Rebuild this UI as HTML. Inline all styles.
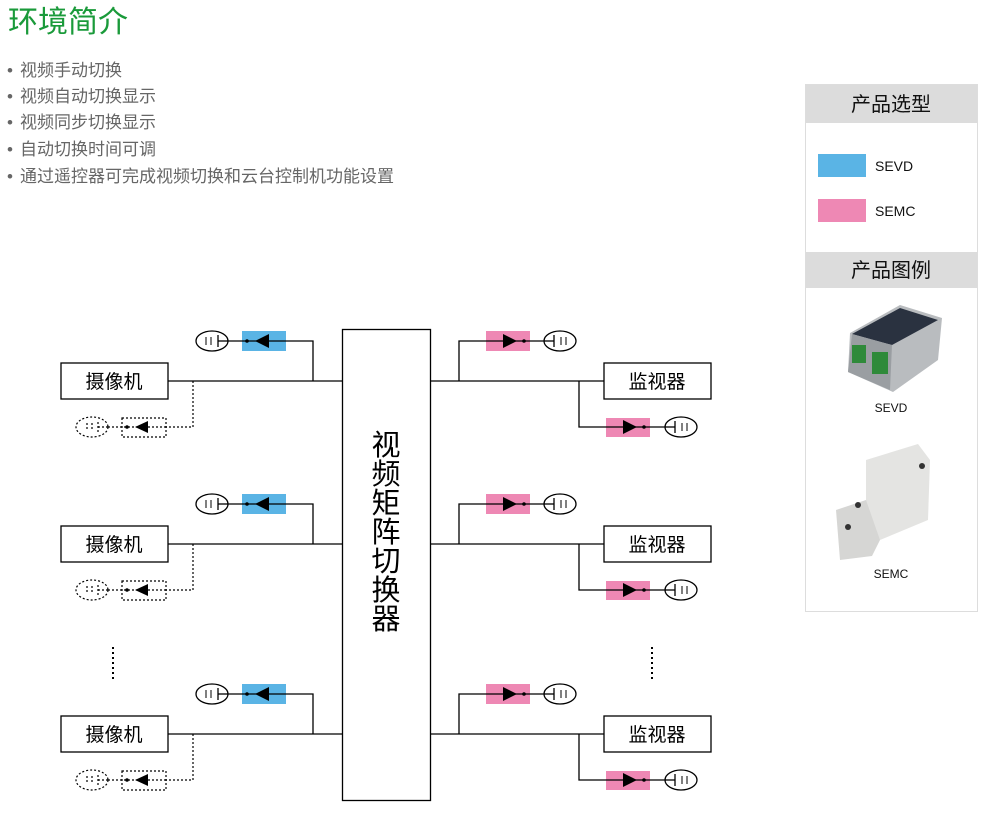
<!DOCTYPE html>
<html><head><meta charset="utf-8"><style>
body{margin:0;background:#fff;width:990px;height:822px;overflow:hidden}
svg{display:block}
.cjk{font-family:"Liberation Sans","Noto Sans CJK SC",sans-serif}
</style></head><body>
<svg width="990" height="822" viewBox="0 0 990 822" xmlns="http://www.w3.org/2000/svg" class="cjk">
<defs>
<g id="cam" fill="none" stroke="#000" stroke-width="1.3">
  <rect x="61" y="-18" width="107" height="36" fill="#fff"/>
  <line x1="168" y1="0" x2="342" y2="0"/>
  <polyline points="313,0 313,-40 286,-40"/>
  <rect x="242" y="-50" width="44" height="20" fill="#5ab4e5" stroke="none"/>
  <line x1="286" y1="-40" x2="228" y2="-40"/>
  <polygon points="255,-40 269,-47 269,-33" fill="#000" stroke="none"/>
  <circle cx="247" cy="-40" r="1.8" fill="#000" stroke="none"/>
  <ellipse cx="212" cy="-40" rx="16" ry="10" fill="#fff"/>
  <line x1="218" y1="-46" x2="218" y2="-34"/><line x1="228" y1="-40" x2="218" y2="-40"/>
  <line x1="211" y1="-44" x2="211" y2="-36" stroke-width="1"/><line x1="206" y1="-44" x2="206" y2="-36" stroke-width="1"/>
  <g stroke-dasharray="2,2" stroke-width="1.2">
    <polyline points="193,0 193,46 166,46"/>
    <rect x="122" y="37" width="44" height="19"/>
    <line x1="122" y1="46" x2="98" y2="46"/>
    <ellipse cx="92" cy="46" rx="16" ry="10" fill="#fff"/>
    <line x1="98" y1="41" x2="98" y2="51"/><line x1="98" y1="46" x2="108" y2="46"/>
    <line x1="92" y1="42" x2="92" y2="50"/><line x1="87" y1="42" x2="87" y2="50"/>
  </g>
  <line x1="166" y1="46" x2="122" y2="46" stroke-dasharray="2,2"/>
  <polygon points="135,46 148,40 148,52" fill="#000" stroke="none"/>
  <circle cx="127" cy="46" r="1.8" fill="#000" stroke="none"/>
</g>
<g id="mon" fill="none" stroke="#000" stroke-width="1.3">
  <rect x="604" y="-18" width="107" height="36" fill="#fff"/>
  <line x1="431" y1="0" x2="604" y2="0"/>
  <polyline points="459,0 459,-40 486,-40"/>
  <rect x="486" y="-50" width="44" height="20" fill="#ee88b4" stroke="none"/>
  <line x1="486" y1="-40" x2="544" y2="-40"/>
  <polygon points="517,-40 503,-47 503,-33" fill="#000" stroke="none"/>
  <circle cx="524" cy="-40" r="1.8" fill="#000" stroke="none"/>
  <ellipse cx="560" cy="-40" rx="16" ry="10" fill="#fff"/>
  <line x1="544" y1="-40" x2="554" y2="-40"/><line x1="554" y1="-46" x2="554" y2="-34"/>
  <line x1="561" y1="-44" x2="561" y2="-36" stroke-width="1"/><line x1="566" y1="-44" x2="566" y2="-36" stroke-width="1"/>
  <polyline points="579,0 579,46 606,46"/>
  <rect x="606" y="37" width="44" height="19" fill="#ee88b4" stroke="none"/>
  <line x1="606" y1="46" x2="665" y2="46"/>
  <polygon points="637,46 623,39 623,53" fill="#000" stroke="none"/>
  <circle cx="644" cy="46" r="1.8" fill="#000" stroke="none"/>
  <ellipse cx="681" cy="46" rx="16" ry="10" fill="#fff"/>
  <line x1="665" y1="46" x2="675" y2="46"/><line x1="675" y1="40" x2="675" y2="52"/>
  <line x1="682" y1="42" x2="682" y2="50" stroke-width="1"/><line x1="687" y1="42" x2="687" y2="50" stroke-width="1"/>
</g>
</defs>

<text x="8" y="32" font-size="30" fill="#1a9a3a">环境简介</text>
<g font-size="17" fill="#666">
<text x="7" y="76">•</text><text x="20" y="76">视频手动切换</text>
<text x="7" y="102">•</text><text x="20" y="102">视频自动切换显示</text>
<text x="7" y="128">•</text><text x="20" y="128">视频同步切换显示</text>
<text x="7" y="155">•</text><text x="20" y="155">自动切换时间可调</text>
<text x="7" y="182">•</text><text x="20" y="182">通过遥控器可完成视频切换和云台控制机功能设置</text>
</g>

<rect x="805.5" y="84.5" width="172" height="527" fill="#fff" stroke="#ddd"/>
<rect x="806" y="85" width="171" height="38" fill="#dcdcdc"/>
<text x="891" y="111" font-size="20" text-anchor="middle" fill="#111">产品选型</text>
<rect x="818" y="154" width="48" height="23" fill="#5ab4e5"/>
<text x="875" y="171" font-size="14" fill="#111">SEVD</text>
<rect x="818" y="199" width="48" height="23" fill="#ee88b4"/>
<text x="875" y="216" font-size="14" fill="#111">SEMC</text>
<rect x="806" y="252" width="171" height="36" fill="#dcdcdc"/>
<text x="891" y="277" font-size="20" text-anchor="middle" fill="#111">产品图例</text>
<polygon points="850,333 900,305 942,318 938,360 893,392 848,372" fill="#b9bcbf"/>
<polygon points="852,334 900,308 938,320 892,345" fill="#2a3240"/>
<polygon points="852,334 892,345 890,390 848,372" fill="#9a9ea2"/>
<rect x="852" y="345" width="14" height="18" fill="#2f8a3a"/>
<rect x="872" y="352" width="16" height="22" fill="#2f8a3a"/>
<text x="891" y="412" font-size="12" text-anchor="middle" fill="#111">SEVD</text>
<polygon points="866,460 918,444 930,460 928,520 880,540 866,530" fill="#e4e4e2"/>
<polygon points="836,510 866,500 880,540 872,556 840,560" fill="#d6d6d4"/>
<circle cx="858" cy="505" r="3" fill="#333"/><circle cx="848" cy="527" r="3" fill="#333"/><circle cx="922" cy="466" r="3" fill="#333"/>
<text x="891" y="578" font-size="12" text-anchor="middle" fill="#111">SEMC</text>

<use href="#cam" transform="translate(0,381)"/>
<use href="#cam" transform="translate(0,544)"/>
<use href="#cam" transform="translate(0,734)"/>
<use href="#mon" transform="translate(0,381)"/>
<use href="#mon" transform="translate(0,544)"/>
<use href="#mon" transform="translate(0,734)"/>
<rect x="342.5" y="329.5" width="88" height="471" fill="#fff" stroke="#000" stroke-width="1.3"/>
<g font-size="19" fill="#000" text-anchor="middle">
<text x="114" y="388">摄像机</text><text x="114" y="551">摄像机</text><text x="114" y="741">摄像机</text>
<text x="657" y="388">监视器</text><text x="657" y="551">监视器</text><text x="657" y="741">监视器</text>
</g>
<g font-size="29" fill="#000" text-anchor="middle">
<text x="386" y="455">视</text><text x="386" y="484">频</text><text x="386" y="513">矩</text>
<text x="386" y="542">阵</text><text x="386" y="571">切</text><text x="386" y="600">换</text><text x="386" y="629">器</text>
</g>
<line x1="113" y1="647" x2="113" y2="682" stroke="#000" stroke-width="2" stroke-dasharray="2,3"/>
<line x1="652" y1="647" x2="652" y2="682" stroke="#000" stroke-width="2" stroke-dasharray="2,3"/>
</svg>
</body></html>
